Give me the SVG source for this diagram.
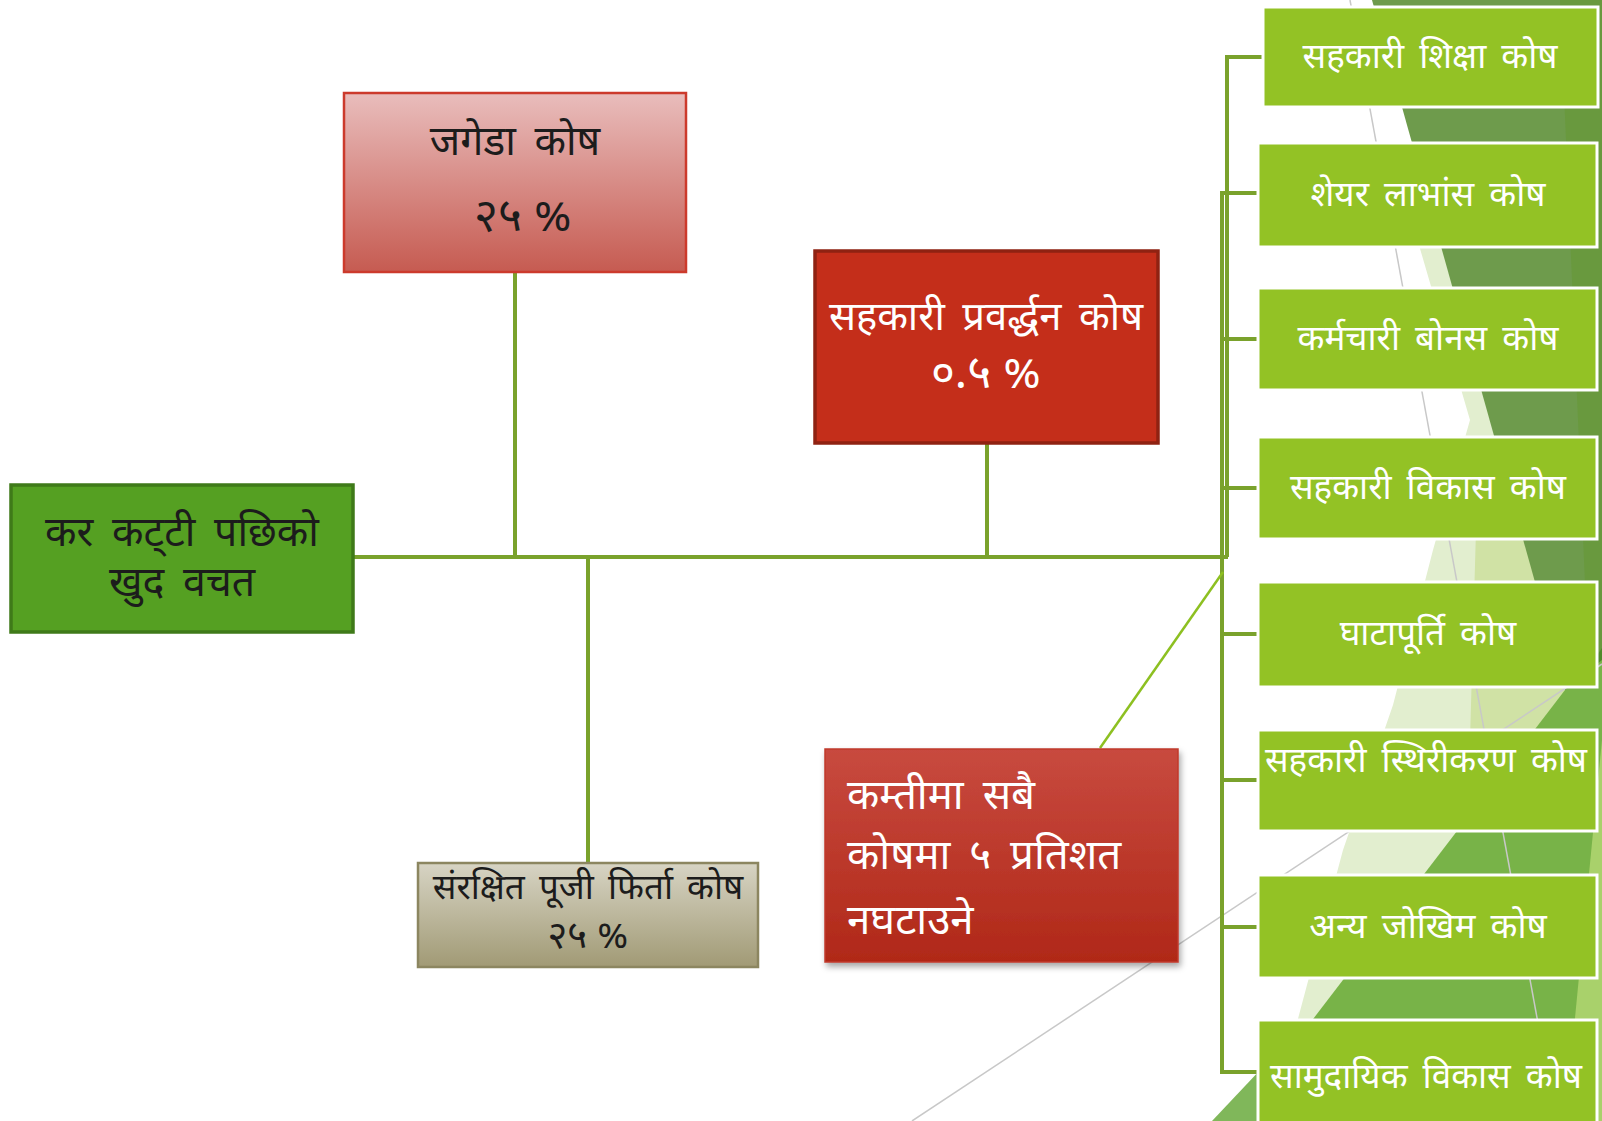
<svg xmlns="http://www.w3.org/2000/svg" width="1602" height="1121" viewBox="0 0 1602 1121">
<style>
text{font-family:"Noto Sans Devanagari","Lohit Devanagari","Mukta","Noto Sans",sans-serif;}
.dark{fill:#1c1c1c}
.white{fill:#ffffff}
.conn{stroke:#7aa22c;stroke-width:4;fill:none}
.rnode{fill:#93c225;stroke:#ffffff;stroke-width:3}
.rtext{fill:#ffffff;font-size:35px;text-anchor:middle;word-spacing:6px}
.gray{stroke:#c8c8c8;stroke-width:1.5;fill:none}
</style>
<defs>
<linearGradient id="gPink" x1="0" y1="0" x2="0" y2="1"><stop offset="0" stop-color="#e9bdbc"/><stop offset="1" stop-color="#c65b51"/></linearGradient>
<linearGradient id="gTan" x1="0" y1="0" x2="0" y2="1"><stop offset="0" stop-color="#d7d4c4"/><stop offset="1" stop-color="#a19a75"/></linearGradient>
<linearGradient id="gRed" x1="0" y1="0" x2="0" y2="1"><stop offset="0" stop-color="#c84a3f"/><stop offset="1" stop-color="#b02818"/></linearGradient>
<filter id="sh" x="-10%" y="-10%" width="130%" height="130%"><feDropShadow dx="2" dy="4" stdDeviation="3" flood-color="#000" flood-opacity="0.35"/></filter>
</defs>
<rect width="1602" height="1121" fill="#ffffff"/>
<g id="background">
<polygon points="1400,180 1602,180 1602,1030 1295,1030 1343,850 1393,705 1433,550 1470,420" fill="#e2eecf"/>
<polygon points="1478,460 1560,460 1575,740 1470,740" fill="#d0e2a5"/>
<polygon points="1372,0 1602,0 1602,720 1568,700" fill="#6e9b4c"/>
<polygon points="1560,0 1602,0 1602,700 1590,700" fill="#69993e"/>
<polygon points="1602,648 1602,722 1552,722" fill="#4f8a2a"/>
<polygon points="1565,690 1602,660 1602,1121 1235,1121" fill="#78b348"/>
<polygon points="1602,740 1602,1121 1565,1121" fill="#a9d16b"/>
<polygon points="1212,1121 1262,1068 1262,1121" fill="#80b75a"/>
<line class="gray" x1="1350" y1="0" x2="1556" y2="1121"/>
<line class="gray" x1="912" y1="1121" x2="1602" y2="664"/>
</g>
<g id="connectors">
<line class="conn" x1="353" y1="557" x2="1228" y2="557"/>
<line class="conn" x1="515" y1="272" x2="515" y2="557"/>
<line class="conn" x1="987" y1="443" x2="987" y2="557"/>
<line class="conn" x1="588" y1="557" x2="588" y2="863"/>
<polyline class="conn" points="1263,57 1227,57 1227,557"/>
<polyline class="conn" points="1258,193 1222,193 1222,1072 1258,1072"/>
<line class="conn" x1="1222" y1="339" x2="1258" y2="339"/>
<line class="conn" x1="1222" y1="488" x2="1258" y2="488"/>
<line class="conn" x1="1222" y1="634" x2="1258" y2="634"/>
<line class="conn" x1="1222" y1="780" x2="1258" y2="780"/>
<line class="conn" x1="1222" y1="927" x2="1258" y2="927"/>
<line x1="1223" y1="572" x2="1100" y2="748" stroke="#8dc021" stroke-width="2.5"/>
</g>
<g id="node-khud-bachat">
<rect x="11" y="485" width="342" height="147" fill="#55a022" stroke="#3f7a19" stroke-width="3.5"/>
<text class="dark" x="182" y="546" font-size="41" text-anchor="middle" word-spacing="8">कर कट्‌टी पछिको</text>
<text class="dark" x="182" y="596" font-size="41" text-anchor="middle" word-spacing="8">खुद वचत</text>
</g>
<g id="node-jageda">
<rect x="344" y="93" width="342" height="179" fill="url(#gPink)" stroke="#cc3a2c" stroke-width="2.5"/>
<text class="dark" x="515" y="155" font-size="41" text-anchor="middle" word-spacing="8">जगेडा कोष</text>
<text class="dark" x="523" y="231" font-size="46" text-anchor="middle">२५ %</text>
</g>
<g id="node-prabardhan">
<rect x="815" y="251" width="343" height="192" fill="#c42e1a" stroke="#8f2212" stroke-width="3.5"/>
<text class="white" x="986" y="330" font-size="40" text-anchor="middle" word-spacing="7">सहकारी प्रवर्द्धन कोष</text>
<text class="white" x="986" y="388" font-size="46" text-anchor="middle">०.५ %</text>
</g>
<g id="node-sanrakshit">
<rect x="418" y="863" width="340" height="104" fill="url(#gTan)" stroke="#8c8660" stroke-width="2.5"/>
<text class="dark" x="588" y="899" font-size="35" text-anchor="middle" word-spacing="5">संरक्षित पूजी फिर्ता कोष</text>
<text class="dark" x="588" y="948" font-size="38" text-anchor="middle">२५ %</text>
</g>
<g id="node-kamtima">
<rect x="825" y="749" width="353" height="213" fill="url(#gRed)" stroke="#c0392b" stroke-width="1.5" filter="url(#sh)"/>
<text class="white" x="847" y="809" font-size="42" word-spacing="8">कम्तीमा सबै</text>
<text class="white" x="847" y="869" font-size="42" word-spacing="8">कोषमा ५ प्रतिशत</text>
<text class="white" x="847" y="934" font-size="42" word-spacing="8">नघटाउने</text>
</g>
<g id="node-shiksha"><rect class="rnode" x="1263" y="7" width="335" height="100"/><text class="rtext" x="1430" y="68">सहकारी शिक्षा कोष</text></g>
<g id="node-share"><rect class="rnode" x="1258" y="143" width="339" height="104"/><text class="rtext" x="1428" y="206">शेयर लाभांस कोष</text></g>
<g id="node-bonus"><rect class="rnode" x="1258" y="288" width="339" height="102"/><text class="rtext" x="1428" y="350">कर्मचारी बोनस कोष</text></g>
<g id="node-bikas"><rect class="rnode" x="1258" y="437" width="339" height="102"/><text class="rtext" x="1428" y="499">सहकारी विकास कोष</text></g>
<g id="node-ghatapurti"><rect class="rnode" x="1258" y="582" width="339" height="105"/><text class="rtext" x="1428" y="645">घाटापूर्ति कोष</text></g>
<g id="node-sthirikaran"><rect class="rnode" x="1258" y="730" width="339" height="101"/><text class="rtext" x="1426" y="772">सहकारी स्थिरीकरण कोष</text></g>
<g id="node-jokhim"><rect class="rnode" x="1258" y="875" width="339" height="103"/><text class="rtext" x="1428" y="938">अन्य जोखिम कोष</text></g>
<g id="node-samudayik"><rect class="rnode" x="1258" y="1020" width="339" height="110"/><text class="rtext" x="1426" y="1088">सामुदायिक विकास कोष</text></g>
</svg>
